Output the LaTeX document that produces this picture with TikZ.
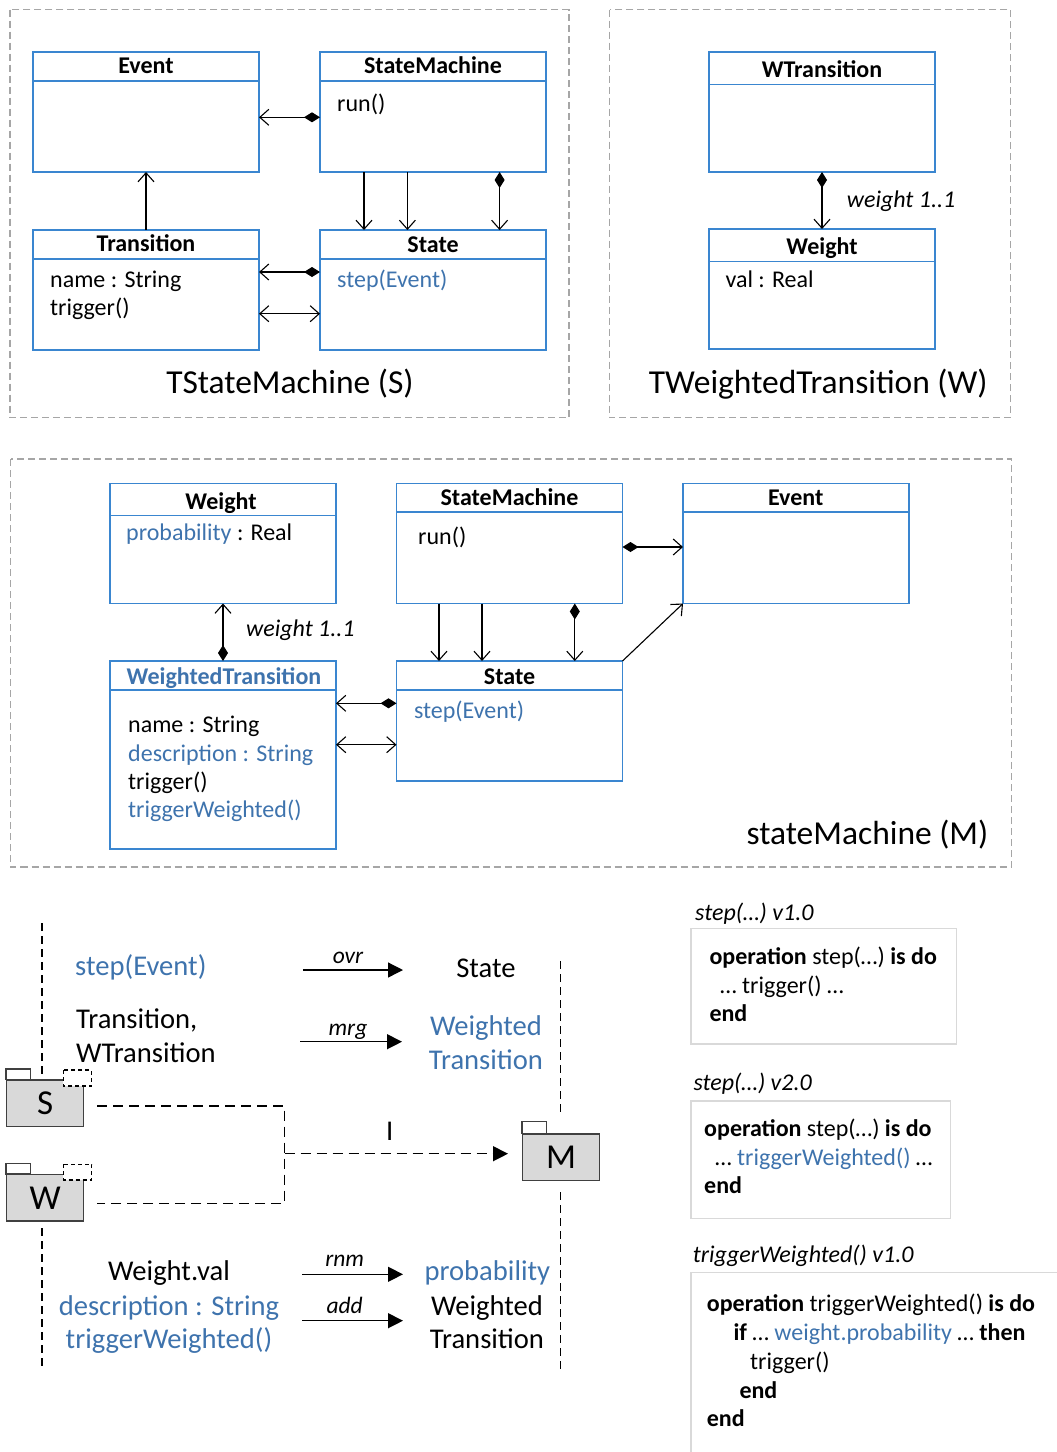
\documentclass[tikz,border=0pt]{standalone}
\usepackage{fontspec}
\setmainfont{Carlito}
\usetikzlibrary{arrows.meta}
\definecolor{boxblue}{HTML}{3A86D0}
\definecolor{txtblue}{HTML}{3E73AD}
\definecolor{framegray}{HTML}{A6A6A6}
\definecolor{pkgfill}{HTML}{D9D9D9}
\definecolor{pkgedge}{HTML}{404040}
\definecolor{codeframe}{HTML}{D9D9D9}
\newcommand\clshead[2]{\draw[hline] ([yshift=-#2pt]#1.north west) -- ([yshift=-#2pt]#1.north east);}
\begin{document}
\begin{tikzpicture}[x=1pt,y=-1pt,
  every node/.style={inner sep=0pt},
  cls/.style={draw=boxblue, line width=1.3pt, anchor=north west, inner sep=0pt, outer sep=0pt,
              minimum width=226pt, minimum height=120pt},
  hline/.style={draw=boxblue, line width=1.3pt},
  ctitle/.style={anchor=base, font=\fontsize{24}{28}\selectfont\bfseries},
  btxt/.style={anchor=base west, font=\fontsize{24}{28}\selectfont},
  ilbl/.style={anchor=base west, font=\fontsize{24}{28}\selectfont\itshape},
  pktitle/.style={anchor=base, font=\fontsize{33.5}{40}\selectfont},
  pkframe/.style={draw=framegray, line width=1.3pt, dash pattern=on 7pt off 4pt},
  lnk/.style={line width=1.1pt},
  compo/.style={lnk, {Diamond[length=16pt,width=10pt]}-{Straight Barb[length=9pt,width=16pt]}},
  navi/.style={lnk, -{Straight Barb[length=9pt,width=16pt]}},
  both2/.style={lnk, {Straight Barb[length=9pt,width=16pt]}-{Straight Barb[length=9pt,width=16pt]}},
  bigtxt/.style={anchor=base, font=\fontsize{28.6}{34}\selectfont},
  arrlbl/.style={anchor=base, font=\fontsize{23.5}{28}\selectfont\itshape},
  oparrow/.style={line width=1.3pt, -{Triangle[length=15pt,width=15pt]}},
  swim/.style={line width=1.2pt, dash pattern=on 8pt off 5pt},
  depl/.style={line width=1.3pt, dash pattern=on 10pt off 6pt},
  pkbody/.style={draw=pkgedge, fill=pkgfill, line width=1.3pt, anchor=north west, inner sep=0pt,
                 minimum width=77pt, minimum height=46.4pt, font=\fontsize{35}{40}\selectfont},
  pktab/.style={draw=pkgedge, fill=white, line width=1.3pt},
  tparam/.style={draw=black, fill=white, line width=1.1pt, dash pattern=on 4pt off 3pt},
  codebox/.style={draw=codeframe, line width=1.5pt},
  codetxt/.style={anchor=base west, font=\fontsize{24}{28}\selectfont},
  capt/.style={anchor=base west, font=\fontsize{24}{28}\selectfont\itshape}]
\useasboundingbox (0,0) rectangle (1057,1452);

% ---------------- package TStateMachine (S) ----------------
\draw[pkframe] (10,9.5) rectangle (569,417.7);
\node[cls] (evS) at (33,52) {};
\node[cls] (smS) at (320,52) {};
\node[cls] (trS) at (33,230) {};
\node[cls] (stS) at (320,230) {};
\clshead{evS}{29}\clshead{smS}{29}\clshead{trS}{29}\clshead{stS}{29}
\node[ctitle] (evSt) at (146,73.5) {Event};
\node[ctitle] (smSt) at (433,73.5) {StateMachine};
\node[ctitle] (trSt) at (146,251.5) {Transition};
\node[ctitle] (stSt) at (433,252.5) {State};
\node[btxt] (smSrun) at (337,111) {run()};
\node[btxt] (trSname) at (50,287.3) {name : String};
\node[btxt] (trStrig) at (50,315.5) {trigger()};
\node[btxt, text=txtblue] (stSstep) at (337,287.3) {step(Event)};
\node[pktitle] (pS) at (290,393.3) {TStateMachine (S)};

\draw[compo] ([yshift=-5.3pt]smS.west) -- ([yshift=-5.3pt]evS.east);
\draw[navi] (trS.north) -- (evS.south);
\draw[navi] ([xshift=-69pt]smS.south) -- ([xshift=-69pt]stS.north);
\draw[navi] ([xshift=-25.6pt]smS.south) -- ([xshift=-25.6pt]stS.north);
\draw[compo] ([xshift=66.6pt]smS.south) -- ([xshift=66.6pt]stS.north);
\draw[compo] ([yshift=18pt]stS.west) -- ([yshift=18pt]trS.east);
\draw[both2] ([yshift=-23.7pt]trS.east) -- ([yshift=-23.7pt]stS.west);

% ---------------- package TWeightedTransition (W) ----------------
\draw[pkframe] (609.5,9.5) rectangle (1010.7,417.7);
\node[cls] (wtW) at (709,52) {};
\node[cls] (wgW) at (709,229) {};
\clshead{wtW}{32.6}\clshead{wgW}{32.7}
\node[ctitle] (wtWt) at (822,77.5) {WTransition};
\node[ctitle] (wgWt) at (822,254) {Weight};
\node[btxt] (wgWval) at (725.3,287.3) {val : Real};
\draw[compo] (wtW.south) -- (wgW.north);
\node[ilbl] (wgWlbl) at (846.7,207.3) {weight 1..1};
\node[pktitle] (pW) at (818.3,393.3) {TWeightedTransition (W)};

% ---------------- merged package stateMachine (M) ----------------
\draw[pkframe] (10.5,459) rectangle (1011.5,867);
\node[cls] (wgM) at (110,483.5) {};
\node[cls] (smM) at (396.5,483.5) {};
\node[cls] (evM) at (683,483.5) {};
\node[cls, minimum height=188pt] (wtM) at (110,661) {};
\node[cls] (stM) at (396.5,661) {};
\clshead{wgM}{32}\clshead{smM}{28.5}\clshead{evM}{28.5}\clshead{wtM}{29}\clshead{stM}{29}
\node[ctitle] (wgMt) at (221,509) {Weight};
\node[ctitle] (smMt) at (509.5,505.5) {StateMachine};
\node[ctitle] (evMt) at (795.7,505.5) {Event};
\node[ctitle, text=txtblue] (wtMt) at (224,684) {WeightedTransition};
\node[ctitle] (stMt) at (509.5,684) {State};
\node[btxt] (wgMprob) at (126,540.7) {\textcolor{txtblue}{probability} : Real};
\node[btxt] (smMrun) at (418,544.3) {run()};
\node[btxt] (wtMname) at (128,732.7) {name : String};
\node[btxt, text=txtblue] (wtMdesc) at (128,761) {description : String};
\node[btxt] (wtMtrig) at (128,789.3) {trigger()};
\node[btxt, text=txtblue] (wtMtw) at (128,817.7) {triggerWeighted()};
\node[btxt, text=txtblue] (stMstep) at (413.8,718.3) {step(Event)};
\node[ilbl] (wgMlbl) at (246,636.7) {weight 1..1};
\node[pktitle, anchor=base east] (pM) at (988.5,844.3) {stateMachine (M)};

\draw[compo] (wtM.north) -- (wgM.south);
\draw[navi] ([xshift=-70.5pt]smM.south) -- ([xshift=-70.5pt]stM.north);
\draw[navi] ([xshift=-27.5pt]smM.south) -- ([xshift=-27.5pt]stM.north);
\draw[compo] ([xshift=65.3pt]smM.south) -- ([xshift=65.3pt]stM.north);
\draw[compo] ([yshift=-3.5pt]smM.east) -- ([yshift=-3.5pt]evM.west);
\draw[navi] (stM.north east) -- (evM.south west);
\coordinate (wtIn) at ([yshift=17.7pt]stM.west);
\draw[compo] (wtIn) -- (wtIn -| wtM.east);
\coordinate (wtBi) at ([yshift=-23.7pt]stM.west);
\draw[both2] (wtBi -| wtM.east) -- (wtBi);

% ---------------- merge operation ----------------
\draw[swim] (42,923) -- (42,1079);
\draw[swim] (42,1228) -- (42,1367);
\draw[swim] (560.5,961) -- (560.5,1112);
\draw[swim] (560.5,1192) -- (560.5,1370);

\draw[pktab] (6,1069) rectangle (30.4,1079.3);
\node[pkbody] (pkS) at (6,1079.3) {S};
\draw[tparam] (63.2,1070) rectangle (91.7,1086);

\draw[pktab] (6,1163.3) rectangle (30.4,1174);
\node[pkbody] (pkW) at (6,1174) {W};
\draw[tparam] (63.2,1164.3) rectangle (91.7,1180);

\draw[pktab] (522,1121.7) rectangle (546.6,1133.3);
\node[pkbody] (pkM) at (522,1133.3) {M};

\coordinate (sS) at ([xshift=13pt,yshift=-2.8pt]pkS.east);
\coordinate (sW) at ([xshift=13pt,yshift=-5.3pt]pkW.east);
\coordinate (jM) at (284.6,1153.7);
\draw[depl] (sS) -- (sS -| jM) -- (sW -| jM) -- (sW);
\coordinate (mIn) at (jM -| pkM.west);
\draw[depl, -{Triangle[length=15pt,width=15pt]}] (jM) -- ([xshift=-14pt]mIn);
\node[bigtxt] (impl) at (389.7,1140) {I};

% rules
\node[bigtxt, anchor=base west, text=txtblue] (r1a) at (75,975) {step(Event)};
\node[bigtxt] (r1b) at (486,977.3) {State};
\coordinate (a1s) at (302.8,970); \coordinate (a1e) at (403,970);
\draw[oparrow] (a1s) -- (a1e);
\node[arrlbl] (l1) at (348,963) {ovr};

\node[bigtxt, anchor=base west] (r2a) at (76,1028.3) {Transition,};
\node[bigtxt, anchor=base west] (r2b) at (76,1062.7) {WTransition};
\node[bigtxt, text=txtblue] (r2c) at (486,1035) {Weighted};
\node[bigtxt, text=txtblue] (r2d) at (486,1069.3) {Transition};
\coordinate (a2s) at (300,1041.7); \coordinate (a2e) at (402,1041.7);
\draw[oparrow] (a2s) -- (a2e);
\node[arrlbl] (l2) at (348,1035.7) {mrg};

\node[bigtxt] (r3a) at (169,1280.7) {Weight.val};
\node[bigtxt, text=txtblue] (r3b) at (487.4,1280.7) {probability};
\coordinate (a3s) at (302,1274.3); \coordinate (a3e) at (403,1274.3);
\draw[oparrow] (a3s) -- (a3e);
\node[arrlbl] (l3) at (344.7,1266.7) {rnm};

\node[bigtxt, text=txtblue] (r4a) at (169,1315.7) {description : String};
\node[bigtxt, text=txtblue] (r4b) at (169,1348.3) {triggerWeighted()};
\node[bigtxt] (r4c) at (487,1315.7) {Weighted};
\node[bigtxt] (r4d) at (487,1348.3) {Transition};
\coordinate (a4s) at (302,1320.7); \coordinate (a4e) at (403,1320.7);
\draw[oparrow] (a4s) -- (a4e);
\node[arrlbl] (l4) at (344.7,1313.3) {add};

% ---------------- operation bodies ----------------
\node[capt] (k1) at (695,920) {step(…) v1.0};
\draw[codebox] (691,928.3) rectangle (956.7,1044);
\node[codetxt] (k1a) at (709.3,964) {\textbf{operation} step(…) \textbf{is do}};
\node[codetxt] (k1b) at (720,993.3) {… trigger() …};
\node[codetxt] (k1c) at (709.3,1021.7) {\textbf{end}};

\node[capt] (k2) at (693.3,1090) {step(…) v2.0};
\draw[codebox] (691,1101) rectangle (950.7,1218.3);
\node[codetxt] (k2a) at (704,1136) {\textbf{operation} step(…) \textbf{is do}};
\node[codetxt] (k2b) at (715,1165) {… \textcolor{txtblue}{triggerWeighted()} …};
\node[codetxt] (k2c) at (704,1193.3) {\textbf{end}};

\node[capt] (k3) at (692.7,1262.7) {triggerWeighted() v1.0};
\draw[codebox] (1060,1272.3) -- (691,1272.3) -- (691,1455);
\node[codetxt] (k3a) at (706.7,1311.7) {\textbf{operation} triggerWeighted() \textbf{is do}};
\node[codetxt] (k3b) at (733.3,1340.7) {\textbf{if} … \textcolor{txtblue}{weight.probability} … \textbf{then}};
\node[codetxt] (k3c) at (750,1369.3) {trigger()};
\node[codetxt] (k3d) at (739.3,1398.3) {\textbf{end}};
\node[codetxt] (k3e) at (706.7,1426.7) {\textbf{end}};
\end{tikzpicture}
\end{document}
